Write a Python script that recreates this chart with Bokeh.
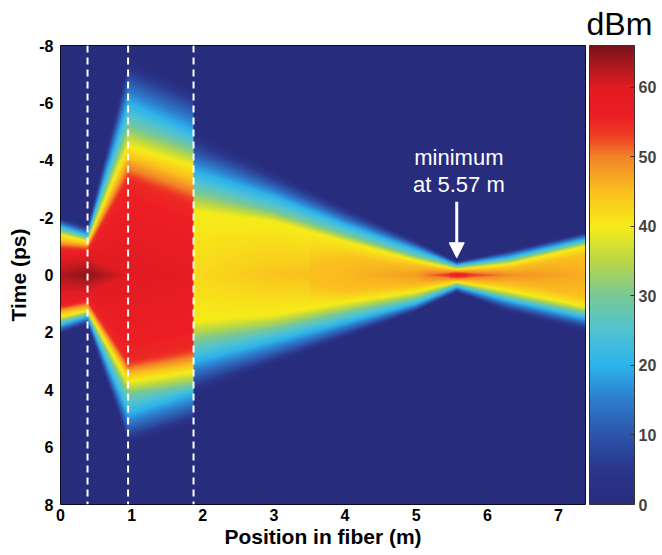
import numpy as np
from bokeh.plotting import figure
from bokeh.models import (LinearColorMapper, ColorBar, FixedTicker, Range1d, Label,
                          Arrow, NormalHead, Span, Title)
from bokeh.embed import file_html
from bokeh.resources import INLINE

# ---------------- data ----------------
X_MAX = 7.38
T_RANGE = [-8, 8]
X_TICKS = [0, 1, 2, 3, 4, 5, 6, 7]
T_TICKS = [-8, -6, -4, -2, 0, 2, 4, 6, 8]
CB_TICKS = [0, 10, 20, 30, 40, 50, 60]
CB_RANGE = [0, 66]
SECTION_EDGES = [0.38, 0.95, 1.87]      # dashed lines (m)
MIN_POS = 5.57                           # minimum pulse width position (m)
ARROW_T = [-2.55, -0.6]
TEXT_T = [-4.1, -3.17]

# key positions along the fiber (m) and the peak power there (dBm)
KEY_X    = [0.00, 0.38, 0.95, 1.87, 1.875, 3.0, 4.0, 5.0, 5.57, 6.3, 7.38]
PEAK_DBM = [63.0, 65.0, 60.0, 58.5, 42.0, 44.5, 45.5, 48.0, 56.5, 49.0, 46.5]
LEVELS   = [0, 10, 20, 30, 40, 45, 50, 55, 60]

# time (ps) where the leading edge (negative side) crosses each level
TOP_00 = [-2.00, -1.70, -7.50, -6.50, -5.00, -3.62, -2.38, -1.19, -0.47, -0.85, -1.50]
TOP_10 = [-1.85, -1.55, -6.80, -5.80, -4.30, -3.15, -2.05, -1.05, -0.42, -0.75, -1.38]
TOP_20 = [-1.70, -1.40, -6.00, -5.00, -3.60, -2.72, -1.75, -0.88, -0.35, -0.62, -1.25]
TOP_30 = [-1.55, -1.28, -5.20, -4.40, -2.90, -2.20, -1.40, -0.65, -0.28, -0.50, -1.12]
TOP_40 = [-1.40, -1.16, -4.50, -3.80, -2.20, -1.85, -1.16, -0.50, -0.20, -0.38, -1.00]
TOP_45 = [-1.20, -1.07, -4.10, -3.30, 0.00, 0.00, -0.60, -0.32, -0.16, -0.24, -0.70]
TOP_50 = [-1.05, -0.98, -3.70, -2.90, 0.00, 0.00, 0.00, 0.00, -0.11, 0.00, 0.00]
TOP_55 = [-0.92, -0.85, -3.30, -2.40, 0.00, 0.00, 0.00, 0.00, -0.05, 0.00, 0.00]
TOP_60 = [-0.50, -0.60, 0.00, 0.00, 0.00, 0.00, 0.00, 0.00, 0.00, 0.00, 0.00]

# time (ps) where the trailing edge (positive side) crosses each level
BOT_00 = [2.05, 1.75, 5.90, 5.20, 4.15, 3.10, 2.20, 1.27, 0.60, 1.30, 1.97]
BOT_10 = [1.90, 1.60, 5.44, 4.74, 3.60, 2.75, 1.95, 1.15, 0.52, 1.10, 1.72]
BOT_20 = [1.75, 1.45, 4.85, 4.15, 3.00, 2.30, 1.65, 1.00, 0.42, 0.90, 1.50]
BOT_30 = [1.60, 1.35, 4.15, 3.80, 2.30, 1.85, 1.30, 0.80, 0.33, 0.75, 1.30]
BOT_40 = [1.45, 1.25, 3.70, 3.35, 1.60, 1.37, 0.95, 0.58, 0.24, 0.55, 1.10]
BOT_45 = [1.30, 1.15, 3.45, 3.10, 0.00, 0.00, 0.55, 0.36, 0.19, 0.32, 0.75]
BOT_50 = [1.20, 1.02, 3.25, 2.85, 0.00, 0.00, 0.00, 0.00, 0.13, 0.00, 0.00]
BOT_55 = [1.10, 0.90, 3.00, 2.50, 0.00, 0.00, 0.00, 0.00, 0.06, 0.00, 0.00]
BOT_60 = [0.60, 0.60, 0.00, 0.00, 0.00, 0.00, 0.00, 0.00, 0.00, 0.00, 0.00]

TOPS = [TOP_00, TOP_10, TOP_20, TOP_30, TOP_40, TOP_45, TOP_50, TOP_55, TOP_60]
BOTS = [BOT_00, BOT_10, BOT_20, BOT_30, BOT_40, BOT_45, BOT_50, BOT_55, BOT_60]

# printed "jet" colour anchors (dBm -> rgb)
CMAP_DBM = [0, 5, 10, 15, 20, 25, 30, 35, 40, 45, 50, 53, 56, 60, 63, 66]
CMAP_RGB = [(40, 44, 125), (42, 55, 140), (45, 85, 170), (45, 125, 205), (45, 180, 235),
            (80, 195, 210), (120, 200, 150), (185, 215, 70), (246, 236, 25), (250, 192, 30),
            (242, 132, 40), (238, 62, 36), (236, 30, 36), (225, 28, 34), (175, 25, 30),
            (120, 20, 25)]

# ---------------- field from the read contour positions ----------------
NX, NT = 525, 461
xs = (np.arange(NX) + 0.5) * X_MAX / NX
ts = T_RANGE[0] + (np.arange(NT) + 0.5) * (T_RANGE[1] - T_RANGE[0]) / NT
field = np.zeros((NT, NX))
for j, x in enumerate(xs):
    P = np.interp(x, KEY_X, PEAK_DBM)
    pt, pv = [], []
    for L, top in zip(LEVELS, TOPS):
        if L < P:
            pt.append(np.interp(x, KEY_X, top)); pv.append(L)
    pt.append(0.0); pv.append(P)
    for L, bot in reversed(list(zip(LEVELS, BOTS))):
        if L < P:
            pt.append(np.interp(x, KEY_X, bot)); pv.append(L)
    pt = np.maximum.accumulate(np.array(pt))
    field[:, j] = np.interp(ts, pt, pv, left=0.0, right=0.0)

# palette
c_d = np.array(CMAP_DBM, float)
c_r = np.array(CMAP_RGB, float)
lv = np.linspace(CB_RANGE[0], CB_RANGE[1], 256)
palette = ["#%02x%02x%02x" % tuple(int(round(np.interp(v, c_d, c_r[:, k]))) for k in range(3))
           for v in lv]

FONT = "Liberation Sans"

p = figure(width=662, height=555, output_backend="svg", toolbar_location=None,
           x_range=Range1d(0, X_MAX), y_range=Range1d(T_RANGE[1], T_RANGE[0]),
           min_border_left=60, min_border_top=43, min_border_bottom=51, min_border_right=77)
p.grid.visible = False
p.outline_line_color = "black"
p.outline_line_width = 1

mapper = LinearColorMapper(palette=palette, low=CB_RANGE[0], high=CB_RANGE[1])
p.image(image=[field], x=0, y=T_RANGE[0], dw=X_MAX, dh=T_RANGE[1] - T_RANGE[0],
        color_mapper=mapper)

for e in SECTION_EDGES:
    p.add_layout(Span(location=e, dimension="height", line_color="white",
                      line_dash="7 5", line_width=2))

p.add_layout(Arrow(end=NormalHead(size=15, fill_color="white", line_color="white"),
                   x_start=MIN_POS, y_start=ARROW_T[0], x_end=MIN_POS, y_end=ARROW_T[1],
                   line_color="white", line_width=3))
p.add_layout(Label(x=MIN_POS + 0.03, y=TEXT_T[0], text="minimum", text_align="center",
                   text_baseline="middle", text_color="white", text_font_size="22px",
                   text_font=FONT))
p.add_layout(Label(x=MIN_POS + 0.03, y=TEXT_T[1], text="at 5.57 m", text_align="center",
                   text_baseline="middle", text_color="white", text_font_size="22px",
                   text_font=FONT))

for ax in (p.xaxis[0], p.yaxis[0]):
    ax.major_label_text_font = FONT
    ax.major_label_text_font_style = "bold"
    ax.major_label_text_font_size = "16px"
    ax.major_label_text_color = "black"
    ax.axis_label_text_font = FONT
    ax.axis_label_text_font_style = "bold"
    ax.axis_label_text_font_size = "21px"
    ax.axis_label_text_color = "black"
    ax.axis_line_color = None
    ax.major_tick_line_color = None
    ax.minor_tick_line_color = None
    ax.major_tick_out = 0
    ax.major_tick_in = 0

p.xaxis.ticker = FixedTicker(ticks=X_TICKS)
p.yaxis.ticker = FixedTicker(ticks=T_TICKS)
p.yaxis.major_label_overrides = {t: str(t) for t in T_TICKS}
p.xaxis.axis_label = "Position in fiber (m)"
p.yaxis.axis_label = "Time (ps)"
p.xaxis.major_label_standoff = 4
p.xaxis.axis_label_standoff = 1
p.yaxis.major_label_standoff = 7
p.yaxis.axis_label_standoff = 6

cb = ColorBar(color_mapper=mapper, ticker=FixedTicker(ticks=CB_TICKS), width=45,
              padding=0, margin=0, location=(4, 0),
              major_label_text_font=FONT, major_label_text_font_style="bold",
              major_label_text_font_size="16px", label_standoff=4,
              bar_line_color="#333333", major_tick_line_color="#333333",
              major_tick_in=4, major_tick_out=0, background_fill_alpha=0)
p.add_layout(cb, "right")

p.add_layout(Title(text="dBm", align="left", offset=526, standoff=7,
                   text_font=FONT, text_font_style="normal", text_font_size="32px",
                   text_color="black"), "above")

open("out.html", "w").write(file_html(p, INLINE))
